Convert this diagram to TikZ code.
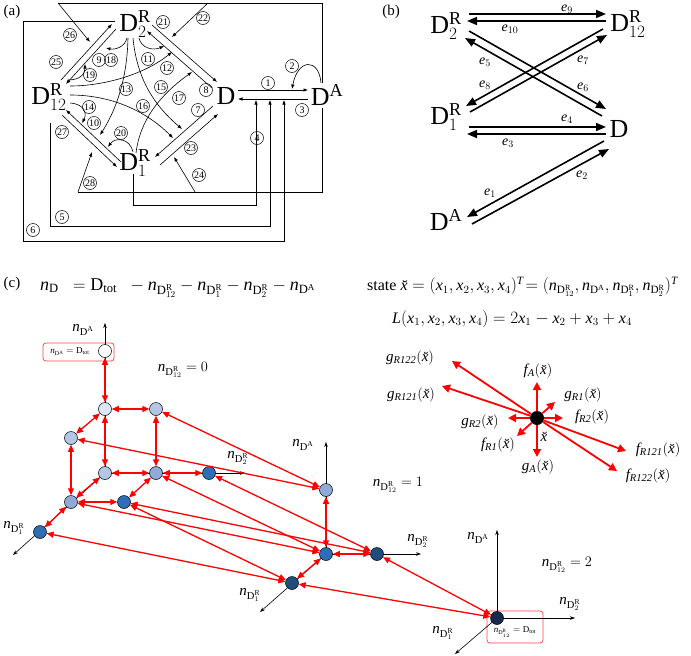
\documentclass[tikz,border=0pt]{standalone}
\usepackage{fontspec}
\setmainfont{Liberation Serif}
\usetikzlibrary{arrows.meta}
\newcommand{\nDA}{\mathit{n}_{\mathrm{D}^{\mathrm{A}}}}
\newcommand{\nDone}{\mathit{n}_{\mathrm{D}^{\mathrm{R}}_{1}}}
\newcommand{\nDtwo}{\mathit{n}_{\mathrm{D}^{\mathrm{R}}_{2}}}
\newcommand{\nDtw}{\mathit{n}_{\mathrm{D}^{\mathrm{R}}_{12}}}
\newcommand{\Dtot}{\mathrm{D}_{\mathrm{tot}}}
\newcommand{\xbr}{\mbox{\itshape\u{x}}}
\definecolor{cmone}{HTML}{DCE5F4}
\definecolor{czero}{HTML}{B4C6E6}
\definecolor{cone}{HTML}{8FA9D8}
\definecolor{ctwo}{HTML}{2F6EB5}
\definecolor{cthr}{HTML}{214C7E}
\definecolor{cfour}{HTML}{172A4D}
\tikzset{
  bigD/.style={font=\fontsize{26}{26}\selectfont, inner sep=0pt},
  plab/.style={font=\fontsize{15}{15}\selectfont, inner sep=0pt},
  cnum/.style={circle, draw, line width=0.5pt, inner sep=0pt, minimum size=13pt, font=\fontsize{10}{10}\selectfont},
  thln/.style={line width=0.6pt},
  tharr/.style={line width=0.6pt, -{Latex[length=4.5pt,width=3.5pt]}},
  barr/.style={line width=1.6pt, -{Triangle[length=10pt,width=8pt]}},
  elab/.style={font=\fontsize{14}{14}\selectfont, inner sep=0pt},
  rarr/.style={red, line width=1.3pt, {Triangle[length=7pt,width=6pt]}-{Triangle[length=7pt,width=6pt]}},
  sarr/.style={red, line width=1.8pt, -{Triangle[length=8pt,width=8pt]}},
  axarr/.style={line width=0.6pt, -{Stealth[length=5pt,width=3.5pt]}},
  stt/.style={circle, draw=black, line width=0.5pt, minimum size=13pt, inner sep=0pt},
  glab/.style={font=\fontsize{15}{15}\selectfont, inner sep=0pt},
  slab/.style={font=\fontsize{15}{15}\selectfont, inner sep=0pt},
  eqlab/.style={font=\fontsize{16}{16}\selectfont, inner sep=0pt},
  boxlab/.style={font=\fontsize{9}{9}\selectfont, inner sep=0pt}
}
\begin{document}
\begin{tikzpicture}[x=1pt,y=-1pt]
\useasboundingbox (0,0) rectangle (691,656);
% ================= panel (a)
\node[plab] (la) at (12,12) {(a)};
\node[bigD] (D2) at (135,24) {$\mathrm{D}^{\mathrm{R}}_{2}$};
\node[bigD] (D12) at (49,97) {$\mathrm{D}^{\mathrm{R}}_{12}$};
\node[bigD] (Dc) at (226,96) {D};
\node[bigD] (DA) at (327,95) {$\mathrm{D}^{\mathrm{A}}$};
\node[bigD] (D1) at (135,163) {$\mathrm{D}^{\mathrm{R}}_{1}$};
% frame
\coordinate (fa) at (58,3);
\coordinate (fb) at (322,3);
\coordinate (fc) at (322,83);
\coordinate (fd) at (322,108);
\coordinate (fe) at (322,192);
\coordinate (ff) at (78,192);
\coordinate (g26) at (90,42);
\coordinate (s22) at (208,3);
\coordinate (g22) at (172,37);
\coordinate (g28) at (92,152);
\coordinate (s24) at (195,192);
\coordinate (g24) at (174,157);
\draw[thln] (fc) -- (fb) -- (fa);
\draw[thln] (fd) -- (fe) -- (ff);
\draw[tharr] (fa) -- (g26);
\draw[tharr] (s22) -- (g22);
\draw[tharr] (ff) -- (g28);
\draw[tharr] (s24) -- (g24);
% lines 4,5,6
\coordinate (h1) at (133,174); \coordinate (h2) at (133,205);
\coordinate (h3) at (256,205); \coordinate (h4) at (256,100);
\draw[tharr] (h1) -- (h2) -- (h3) -- (h4);
\coordinate (k1) at (50,123); \coordinate (k2) at (50,226);
\coordinate (k3) at (270,226); \coordinate (k4) at (270,100);
\draw[tharr] (k1) -- (k2) -- (k3) -- (k4);
\coordinate (m1) at (115,21); \coordinate (m2) at (23,21);
\coordinate (m3) at (23,241); \coordinate (m4) at (284,241); \coordinate (m5) at (284,100);
\draw[tharr] (m1) -- (m2) -- (m3) -- (m4) -- (m5);
% lines 1,3, loop 2
\coordinate (a1s) at (238,90); \coordinate (a1e) at (308,90);
\coordinate (a3s) at (308,99); \coordinate (a3e) at (238,99);
\draw[tharr] (a1s) -- (a1e);
\draw[tharr] (a3s) -- (a3e);
\coordinate (a2s) at (321,83); \coordinate (a2e) at (292,89);
\draw[tharr] (a2s) .. controls (319,58) and (298,58) .. (a2e);
% diamond edges
\coordinate (q1) at (61,80); \coordinate (q2) at (112,24);
\coordinate (q3) at (116,29); \coordinate (q4) at (66,84);
\draw[tharr] (q1) -- (q2); \draw[tharr] (q3) -- (q4);
\coordinate (r1) at (152,25); \coordinate (r2) at (217,82);
\coordinate (r3) at (212,88); \coordinate (r4) at (147,31);
\draw[tharr] (r1) -- (r2); \draw[tharr] (r3) -- (r4);
\coordinate (t1) at (62,115); \coordinate (t2) at (117,167);
\coordinate (t3) at (121,162); \coordinate (t4) at (66,110);
\draw[tharr] (t1) -- (t2); \draw[tharr] (t3) -- (t4);
\coordinate (u1) at (160,165); \coordinate (u2) at (218,114);
\coordinate (u3) at (213,106); \coordinate (u4) at (155,157);
\draw[tharr] (u1) -- (u2); \draw[tharr] (u3) -- (u4);
% curved arrows
\coordinate (c18s) at (127,38); \coordinate (c18e) at (106,48);
\draw[tharr] (c18s) .. controls (125,47) and (115,50) .. (c18e);
\coordinate (c11s) at (139,38); \coordinate (c11e) at (164,46);
\draw[tharr] (c11s) .. controls (141,48) and (153,51) .. (c11e);
\coordinate (c19s) at (68,80); \coordinate (c19e) at (85,64);
\draw[tharr] (c19s) .. controls (80,80) and (85,74) .. (c19e);
\coordinate (c12s) at (70,86); \coordinate (c12e) at (172,52);
\draw[tharr] (c12s) .. controls (105,86) and (145,74) .. (c12e);
\coordinate (c13s) at (128,38); \coordinate (c13e) at (100,135);
\draw[tharr] (c13s) .. controls (127,80) and (116,110) .. (c13e);
\coordinate (c15s) at (133,38); \coordinate (c15e) at (182,129);
\draw[tharr] (c15s) .. controls (137,80) and (155,106) .. (c15e);
\coordinate (c16s) at (70,95); \coordinate (c16e) at (173,138);
\draw[tharr] (c16s) .. controls (110,95) and (145,110) .. (c16e);
\coordinate (c17s) at (136,153); \coordinate (c17e) at (192,72);
\draw[tharr] (c17s) .. controls (140,120) and (160,95) .. (c17e);
\coordinate (c14s) at (70,103); \coordinate (c14e) at (82,123);
\draw[tharr] (c14s) .. controls (85,104) and (87,114) .. (c14e);
\coordinate (c20s) at (133,152); \coordinate (c20e) at (108,147);
\draw[tharr] (c20s) .. controls (130,138) and (115,137) .. (c20e);
% circled numbers
\node[cnum] (n1) at (268,83) {1};
\node[cnum] (n2) at (292,66) {2};
\node[cnum] (n3) at (302,110) {3};
\node[cnum] (n4) at (257,138) {4};
\node[cnum] (n5) at (62,217) {5};
\node[cnum] (n6) at (33,230) {6};
\node[cnum] (n7) at (198,110) {7};
\node[cnum] (n8) at (206,90) {8};
\node[cnum] (n9) at (99,60) {9};
\node[cnum] (n10) at (94,123) {10};
\node[cnum] (n11) at (148,59) {11};
\node[cnum] (n12) at (167,68) {12};
\node[cnum] (n13) at (126,89) {13};
\node[cnum] (n14) at (89,107) {14};
\node[cnum] (n15) at (161,87) {15};
\node[cnum] (n16) at (143,106) {16};
\node[cnum] (n17) at (179,98) {17};
\node[cnum] (n18) at (111,60) {18};
\node[cnum] (n19) at (90,75) {19};
\node[cnum] (n20) at (121,133) {20};
\node[cnum] (n21) at (163,22) {21};
\node[cnum] (n22) at (203,18) {22};
\node[cnum] (n23) at (191,148) {23};
\node[cnum] (n24) at (199,175) {24};
\node[cnum] (n25) at (56,62) {25};
\node[cnum] (n26) at (70,35) {26};
\node[cnum] (n27) at (62,132) {27};
\node[cnum] (n28) at (90,183) {28};
% ================= panel (b)
\node[plab] (lb) at (391,12) {(b)};
\node[bigD] (bD2) at (446,26) {$\mathrm{D}^{\mathrm{R}}_{2}$};
\node[bigD] (bD12) at (628,24) {$\mathrm{D}^{\mathrm{R}}_{12}$};
\node[bigD] (bD1) at (446,117) {$\mathrm{D}^{\mathrm{R}}_{1}$};
\node[bigD] (bD) at (619,129) {D};
\node[bigD] (bDA) at (446,220) {$\mathrm{D}^{\mathrm{A}}$};
\coordinate (e9s) at (469,14); \coordinate (e9e) at (606,14);
\coordinate (e10s) at (606,21); \coordinate (e10e) at (467,21);
\coordinate (e6s) at (469,31); \coordinate (e6e) at (606,109);
\coordinate (e5s) at (602,116); \coordinate (e5e) at (465,38);
\coordinate (e8s) at (603,29); \coordinate (e8e) at (466,106);
\coordinate (e7s) at (470,112); \coordinate (e7e) at (607,35);
\coordinate (e4s) at (469,127); \coordinate (e4e) at (606,127);
\coordinate (e3s) at (606,134); \coordinate (e3e) at (467,134);
\coordinate (e2s) at (472,224); \coordinate (e2e) at (609,149);
\coordinate (e1s) at (604,141); \coordinate (e1e) at (467,217);
\foreach \a in {9,10,6,5,8,7,4,3,2,1} {\draw[barr] (e\a s) -- (e\a e);}
\node[elab] (le9) at (567,9) {$\mathit{e}_{9}$};
\node[elab] (le10) at (510,29) {$\mathit{e}_{10}$};
\node[elab] (le5) at (485,62) {$\mathit{e}_{5}$};
\node[elab] (le6) at (583,87) {$\mathit{e}_{6}$};
\node[elab] (le7) at (583,60) {$\mathit{e}_{7}$};
\node[elab] (le8) at (485,85) {$\mathit{e}_{8}$};
\node[elab] (le4) at (567,119) {$\mathit{e}_{4}$};
\node[elab] (le3) at (508,143) {$\mathit{e}_{3}$};
\node[elab] (le1) at (490,193) {$\mathit{e}_{1}$};
\node[elab] (le2) at (582,175) {$\mathit{e}_{2}$};
% ================= panel (c)
\node[plab] (lc) at (12,284) {(c)};
\node[eqlab, anchor=west, font=\fontsize{18}{18}\selectfont] (eq1) at (40,288) {$\mathit{n}_{\mathrm{D}}\;\;=\Dtot\;\;-\nDtw-\nDone-\nDtwo-\nDA$};
\node[eqlab, anchor=west] (eq2) at (367,287) {state $\xbr=(\mathit{x}_1,\mathit{x}_2,\mathit{x}_3,\mathit{x}_4)^{\mathit{T}}\!=(\nDtw,\nDA,\nDone,\nDtwo)^{\mathit{T}}$};
\node[eqlab, anchor=west] (eq3) at (392,319) {$\mathit{L}(\mathit{x}_1,\mathit{x}_2,\mathit{x}_3,\mathit{x}_4)=2\mathit{x}_1-\mathit{x}_2+\mathit{x}_3+\mathit{x}_4$};
% positions
\coordinate (pW) at (105,351); \coordinate (p1) at (105,409); \coordinate (p2) at (156,409);
\coordinate (p3) at (71,438); \coordinate (p4) at (105,473); \coordinate (p5) at (156,473);
\coordinate (p6) at (209,473); \coordinate (p7) at (71,502); \coordinate (p8) at (124,502);
\coordinate (p9) at (40,532);
\coordinate (q0) at (326,554); \coordinate (qa) at (326,490); \coordinate (qb) at (377,554);
\coordinate (qc) at (292,583);
\coordinate (r0) at (497,618);
\coordinate (x0u) at (105,323); \coordinate (x0r) at (245,473); \coordinate (x0d) at (13,555);
\coordinate (x1u) at (326,442); \coordinate (x1r) at (421,554); \coordinate (x1d) at (260,612);
\coordinate (x2u) at (497,530); \coordinate (x2r) at (575,618); \coordinate (x2d) at (455,654);
% boxes
\draw[red!75, rounded corners=3pt, line width=0.7pt] (43,343) rectangle (114,361);
\draw[red!75, rounded corners=3pt, line width=0.7pt] (487,611) rectangle (543,643);
% axes
\draw[axarr] (p4) -- (x0u);
\draw[axarr] (p4) -- (x0r);
\draw[axarr] (p4) -- (x0d);
\draw[axarr] (q0) -- (x1u);
\draw[axarr] (q0) -- (x1r);
\draw[axarr] (q0) -- (x1d);
\draw[axarr] (r0) -- (x2u);
\draw[axarr] (r0) -- (x2r);
\draw[axarr] (r0) -- (x2d);
% state nodes
\node[stt, fill=white] (W) at (pW) {};
\node[stt, fill=cmone] (P1) at (p1) {};
\node[stt, fill=czero] (P2) at (p2) {};
\node[stt, fill=czero] (P3) at (p3) {};
\node[stt, fill=czero] (P4) at (p4) {};
\node[stt, fill=cone] (P5) at (p5) {};
\node[stt, fill=ctwo] (P6) at (p6) {};
\node[stt, fill=cone] (P7) at (p7) {};
\node[stt, fill=ctwo] (P8) at (p8) {};
\node[stt, fill=ctwo] (P9) at (p9) {};
\node[stt, fill=cone] (Q1) at (qa) {};
\node[stt, fill=ctwo] (Q0) at (q0) {};
\node[stt, fill=cthr] (Q2) at (qb) {};
\node[stt, fill=cthr] (Q3) at (qc) {};
\node[stt, fill=cfour] (R0) at (r0) {};
% red transitions
\draw[rarr] (W) -- (P1);
\draw[rarr] (P1) -- (P2);
\draw[rarr] (P1) -- (P3);
\draw[rarr] (P1) -- (P4);
\draw[rarr] (P2) -- (P5);
\draw[rarr] (P3) -- (P7);
\draw[rarr] (P4) -- (P5);
\draw[rarr] (P5) -- (P6);
\draw[rarr] (P4) -- (P7);
\draw[rarr] (P7) -- (P9);
\draw[rarr] (P5) -- (P8);
\draw[rarr] (P7) -- (P8);
\draw[rarr] (P2) -- (Q1);
\draw[rarr] (P3) -- (Q1);
\draw[rarr] (P5) -- (Q0);
\draw[rarr] (P7) -- (Q0);
\draw[rarr] (P6) -- (Q2);
\draw[rarr] (P8) -- (Q2);
\draw[rarr] (P8) -- (Q3);
\draw[rarr] (P9) -- (Q3);
\draw[rarr] (Q1) -- (Q0);
\draw[rarr] (Q0) -- (Q2);
\draw[rarr] (Q0) -- (Q3);
\draw[rarr] (Q2) -- (R0);
\draw[rarr] (Q3) -- (R0);
% graph labels
\node[boxlab] (bx1) at (70,352) {$\nDA=\Dtot$};
\node[boxlab] (bx2) at (515,632) {$\nDtw=\Dtot$};
\node[glab] (g0a) at (83,330) {$\nDA$};
\node[glab] (g0t) at (183,370) {$\nDtw=0$};
\node[glab] (g0r) at (238,458) {$\nDtwo$};
\node[glab] (g0d) at (14,528) {$\nDone$};
\node[glab] (g1a) at (303,445) {$\nDA$};
\node[glab] (g1t) at (398,485) {$\nDtw=1$};
\node[glab] (g1r) at (418,541) {$\nDtwo$};
\node[glab] (g1d) at (250,595) {$\nDone$};
\node[glab] (g2a) at (478,538) {$\nDA$};
\node[glab] (g2t) at (567,565) {$\nDtw=2$};
\node[glab] (g2r) at (570,604) {$\nDtwo$};
\node[glab] (g2d) at (443,633) {$\nDone$};
% star
\node[circle, fill=black, minimum size=14pt, inner sep=0pt] (K) at (537,418) {};
\coordinate (tfA) at (537,382); \coordinate (tgR1) at (555,402);
\coordinate (tfR2) at (563,418); \coordinate (tgR2) at (508,418);
\coordinate (tfR1) at (517,436); \coordinate (tgA) at (537,457);
\coordinate (tf121) at (626,451); \coordinate (tf122) at (617,471);
\coordinate (tg121) at (442,386); \coordinate (tg122) at (452,361);
\foreach \t in {tfA,tgR1,tfR2,tgR2,tfR1,tgA,tf121,tf122,tg121,tg122} {\draw[sarr] (K) -- (\t);}
\node[slab] (sfA) at (538,371) {$\mathit{f}_{\mathit{A}}(\xbr)$};
\node[slab] (sgR1) at (583,395) {$\mathit{g}_{\mathit{R1}}(\xbr)$};
\node[slab] (sfR2) at (592,417) {$\mathit{f}_{\mathit{R2}}(\xbr)$};
\node[slab] (sgR2) at (480,422) {$\mathit{g}_{\mathit{R2}}(\xbr)$};
\node[slab] (sfR1) at (498,445) {$\mathit{f}_{\mathit{R1}}(\xbr)$};
\node[slab] (sgA) at (538,467) {$\mathit{g}_{\mathit{A}}(\xbr)$};
\node[slab] (sx) at (544,437) {\xbr};
\node[slab] (sf121) at (658,450) {$\mathit{f}_{\mathit{R121}}(\xbr)$};
\node[slab] (sf122) at (648,476) {$\mathit{f}_{\mathit{R122}}(\xbr)$};
\node[slab] (sg121) at (411,395) {$\mathit{g}_{\mathit{R121}}(\xbr)$};
\node[slab] (sg122) at (410,358) {$\mathit{g}_{\mathit{R122}}(\xbr)$};
\end{tikzpicture}
\end{document}
